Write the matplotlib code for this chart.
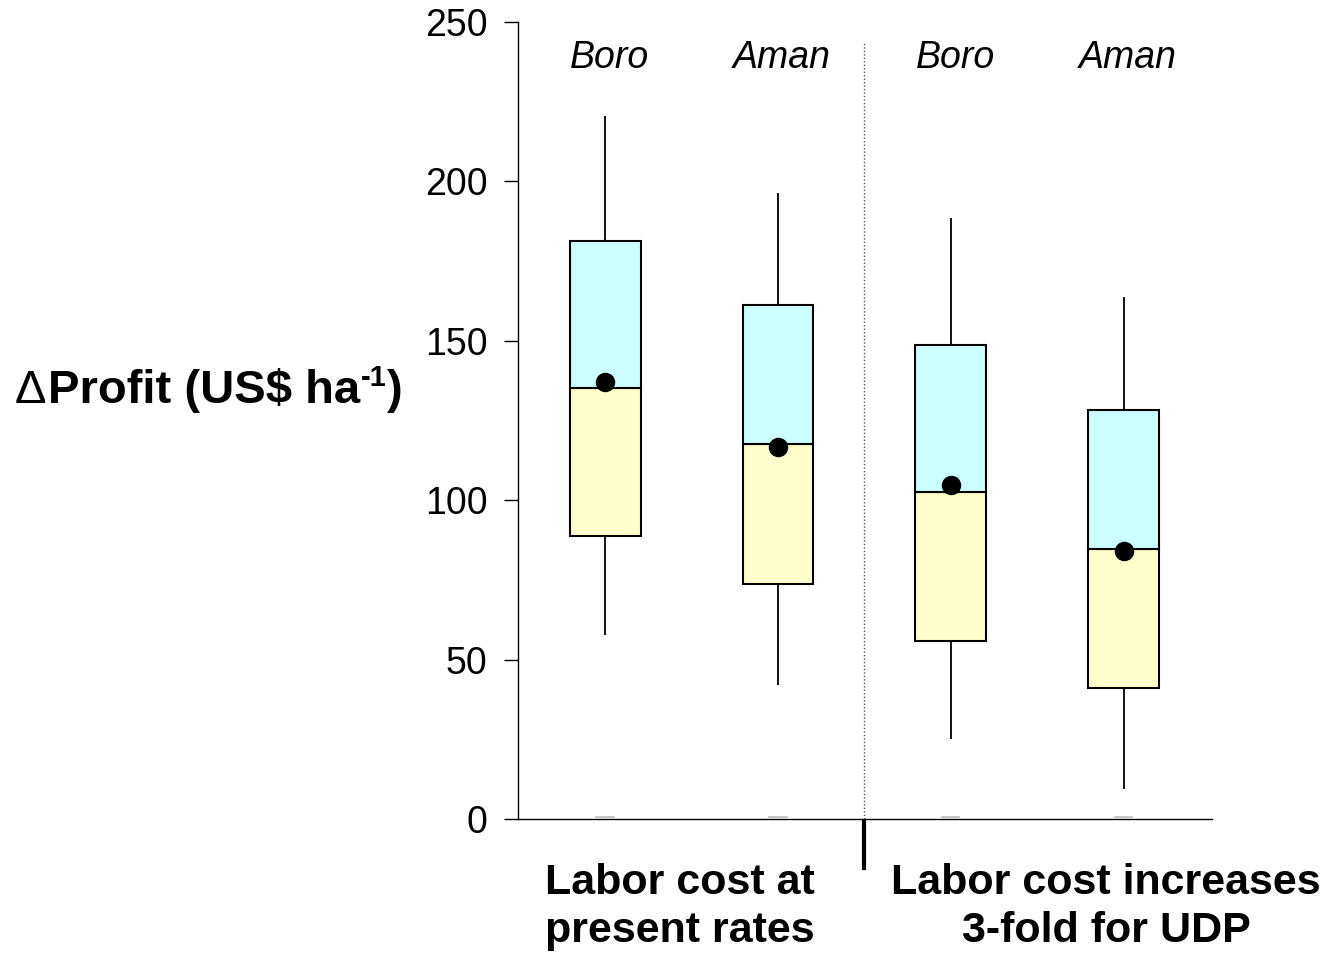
import numpy as np
import matplotlib.pyplot as plt

plt.rcParams['font.family'] = ['Liberation Sans', 'DejaVu Sans']

# box statistics
seasons = ["Boro", "Aman", "Boro", "Aman"]
whisker_low = [57.7, 42.0, 25.1, 9.4]
q1 = [88.8, 73.7, 55.8, 41.1]
median = [135.2, 117.6, 102.6, 84.7]
q3 = [181.3, 161.2, 148.7, 128.3]
whisker_high = [220.5, 196.4, 188.5, 163.7]
means = [137.1, 116.7, 104.8, 84.1]
group_labels = ["Labor cost at\npresent rates", "Labor cost increases\n3-fold for UDP"]

pos = np.arange(1, len(seasons) + 1)
q1 = np.array(q1)
median = np.array(median)
q3 = np.array(q3)

fig = plt.figure(figsize=(13.23, 9.55), dpi=100)
ax = fig.add_axes([0.3915, 0.1424, 0.5245, 0.8346])

ax.vlines(pos, whisker_low, q1, color="black", lw=1.3, zorder=1)
ax.vlines(pos, q3, whisker_high, color="black", lw=1.3, zorder=1)
ax.bar(pos, median - q1, bottom=q1, width=0.41, color="#FFFFCC",
       edgecolor="black", lw=1.5, zorder=2)
ax.bar(pos, q3 - median, bottom=median, width=0.41, color="#CCFFFF",
       edgecolor="black", lw=1.5, zorder=2)
ax.plot(pos, means, "o", color="black", ms=13, zorder=3)

# little grey marks at zero
for p in pos:
    ax.plot([p - 0.05, p + 0.05], [0.6, 0.6], color="#bbbbbb", lw=1.2, zorder=1)

# group separator
ax.plot([2.5, 2.5], [0, 243.7], color="#555555", lw=1, ls=(0, (1, 1.5)), zorder=0)
ax.plot([2.5, 2.5], [-0.5, -15.4], color="black", lw=3, clip_on=False)

for p, s in zip(pos, seasons):
    ax.text(p + 0.025, 238.8, s, style="italic", fontsize=27,
            ha="center", va="center")

ax.set_xlim(0.496, 4.51)
ax.set_ylim(0, 250)
ax.set_yticks([0, 50, 100, 150, 200, 250])
ax.set_xticks([])
ax.tick_params(axis="y", direction="out", length=10, width=1, labelsize=27, pad=12)
for side in ["top", "right"]:
    ax.spines[side].set_visible(False)
for side in ["left", "bottom"]:
    ax.spines[side].set_linewidth(1)

fig.text(0.514, 0.050, group_labels[0], fontsize=31, fontweight="bold",
         ha="center", va="center", linespacing=1.25)
fig.text(0.836, 0.050, group_labels[1], fontsize=31, fontweight="bold",
         ha="center", va="center", linespacing=1.25)

# y label: plain delta, bold text, small superscript
renderer = fig.canvas.get_renderer()
ylab_y = 0.578
x0 = 15
t = fig.text(x0 / 1323, ylab_y, "\u0394", fontsize=34, ha="left", va="baseline")
x0 = t.get_window_extent(renderer).x1 + 1
t = fig.text(x0 / 1323, ylab_y, "Profit (US$ ha", fontsize=34, fontweight="bold",
             ha="left", va="baseline")
x0 = t.get_window_extent(renderer).x1 + 1
t = fig.text(x0 / 1323, ylab_y + 0.018, "-1", fontsize=21, fontweight="bold",
             ha="left", va="baseline")
x0 = t.get_window_extent(renderer).x1 + 1
fig.text(x0 / 1323, ylab_y, ")", fontsize=34, fontweight="bold",
         ha="left", va="baseline")

fig.savefig("out.png", dpi=100)
